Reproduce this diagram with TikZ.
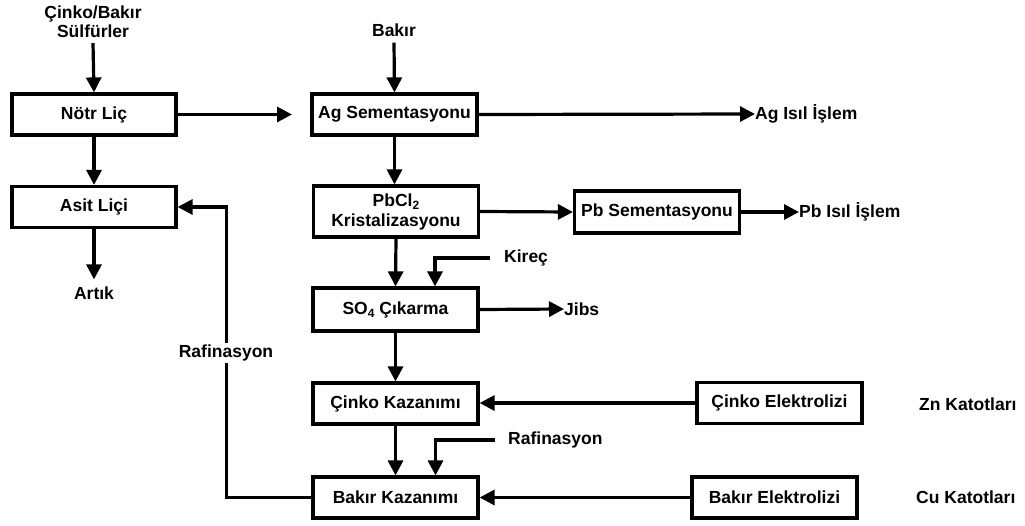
\documentclass[tikz,border=0pt]{standalone}
\usepackage{fontspec}
\setmainfont{Liberation Sans}
\usetikzlibrary{arrows.meta}
\begin{document}
\begin{tikzpicture}[x=1pt,y=-1pt,
  font=\fontsize{17.5}{19}\selectfont\bfseries,
  every node/.style={inner sep=0pt},
  procbox/.style={draw, line width=3.2pt, minimum width=165pt, minimum height=41pt, align=center},
  flow/.style={line width=3.2pt, -{Triangle[length=15pt,width=15pt]}},
  lbl/.style={align=center}]
\useasboundingbox (0,0) rectangle (1025,525);

% process boxes
\node[procbox, minimum width=164pt] (notr) at (94,114.5) {Nötr Liç};
\node[procbox, minimum width=164pt] (asit) at (94,207) {Asit Liçi};
\node[procbox] (ag) at (394.5,114.5) {Ag Sementasyonu};
\node[procbox, minimum height=51pt] (pbcl) at (396,211.5) {PbCl\raisebox{-3pt}{\fontsize{12}{12}\selectfont 2}\\[1pt]Kristalizasyonu};
\node[procbox, minimum height=42pt] (pbsem) at (657,212) {Pb Sementasyonu};
\node[procbox, minimum height=43pt] (so4) at (395.5,309.5) {SO\raisebox{-3pt}{\fontsize{12}{12}\selectfont 4} Çıkarma};
\node[procbox] (cinkok) at (395.5,403.5) {Çinko Kazanımı};
\node[procbox] (bakirk) at (395.5,497.5) {Bakır Kazanımı};
\node[procbox] (cinkoe) at (779.5,403) {Çinko Elektrolizi};
\node[procbox] (bakire) at (774.5,497.5) {Bakır Elektrolizi};

% stream labels
\node[lbl] (sulf) at (93,22) {Çinko/Bakır\\Sülfürler};
\node[lbl] (bakir) at (394,30) {Bakır};
\node[lbl] (artik) at (94,293) {Artık};
\node[lbl, anchor=west] (agisil) at (755,114) {Ag Isıl İşlem};
\node[lbl, anchor=west] (pbisil) at (799,212) {Pb Isıl İşlem};
\node[lbl, anchor=west] (jibs) at (564,309) {Jibs};
\node[lbl, anchor=west] (kirec) at (504,258) {Kireç};
\node[lbl, anchor=west] (raf2) at (508,440) {Rafinasyon};
\node[lbl, anchor=west] (znkat) at (919,404) {Zn Katotları};
\node[lbl, anchor=west] (cukat) at (916,497) {Cu Katotları};

% free end of the neutral-leach outlet
\coordinate (notrout) at (292,114.5);

% connectors
\draw[flow] ([yshift=-5pt]sulf.south) -- (notr.north);
\draw[flow] ([yshift=-6pt]bakir.south) -- (ag.north);
\draw[flow] (notr.east) -- (notrout);
\draw[flow] (notr.south) -- (asit.north);
\draw[flow] (asit.south) -- ([yshift=7pt]artik.north);
\draw[flow] (ag.south) -- (ag.south |- pbcl.north);
\draw[flow] (ag.east) -- (agisil.west);
\draw[flow] (pbcl.east) -- (pbsem.west);
\draw[flow] (pbsem.east) -- (pbisil.west);
\draw[flow] (pbcl.south) -- (so4.north);
\draw[flow] ([xshift=-14pt]kirec.west) -| ([xshift=39.5pt]so4.north);
\draw[flow] (so4.east) -- (jibs.west);
\draw[flow] (so4.south) -- (cinkok.north);
\draw[flow] (cinkoe.west) -- (cinkoe.west -| cinkok.east);
\draw[flow] (cinkok.south) -- (bakirk.north);
\draw[flow] ([xshift=-13pt]raf2.west) -| ([xshift=40pt]bakirk.north);
\draw[flow] (bakire.west) -- (bakirk.east);
\draw[flow] (bakirk.west) -- ++(-85,0) |- (asit.east);

% recycle label sitting on the return line
\node[lbl, fill=white, inner ysep=2pt] (raf1) at (226,353) {Rafinasyon};
\end{tikzpicture}
\end{document}
